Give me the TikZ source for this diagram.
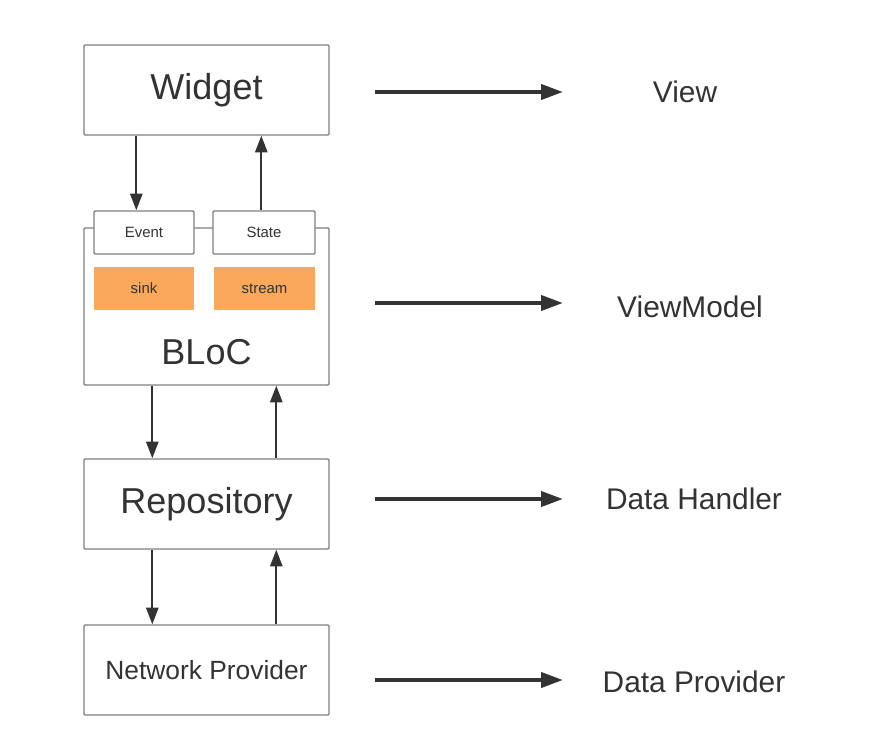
\documentclass[tikz,border=0pt]{standalone}
\usepackage{fontspec}
\setmainfont{Liberation Sans}
\usetikzlibrary{arrows.meta,calc}
\definecolor{boxgray}{RGB}{128,128,128}
\definecolor{inkgray}{RGB}{51,51,51}
\definecolor{sinkorange}{RGB}{250,168,92}

\begin{document}
\begin{tikzpicture}[x=0.02cm, y=-0.02cm,
    box/.style={draw=boxgray, line width=0.8pt, fill=white, text=inkgray, rounded corners=0.6pt, inner sep=0pt},
    tab/.style={box, minimum width=100*0.02cm, minimum height=43*0.02cm, font=\fontsize{8.5}{10}\selectfont},
    pipe/.style={fill=sinkorange, text=inkgray, inner sep=0pt, minimum width=100*0.02cm, minimum height=43*0.02cm, font=\fontsize{8.5}{10}\selectfont},
    flow/.style={inkgray, line width=1.1pt, -{Triangle[length=9.5pt,width=7pt]}},
    layer/.style={inkgray, line width=2.3pt, -{Triangle[length=12.5pt,width=8.5pt]}},
    tag/.style={text=inkgray, font=\fontsize{17}{20}\selectfont}]

    \useasboundingbox (0,0) rectangle (874,743);

    \node[box, minimum width=245*0.02cm, minimum height=90*0.02cm, font=\fontsize{20.5}{24}\selectfont] (widget) at (206.5,90) {Widget};

    \node[box, minimum width=245*0.02cm, minimum height=157*0.02cm] (bloc) at (206.5,306.5) {};
    \node[tab] (event) at (144,232.5) {Event};
    \node[tab, minimum width=102*0.02cm] (state) at (264,232.5) {State};
    \node[pipe] (sink) at (144,288.5) {sink};
    \node[pipe, minimum width=101*0.02cm] (stream) at (264.5,288.5) {stream};
    \node[text=inkgray, font=\fontsize{20.5}{24}\selectfont] (bloclabel) at (206.5,352) {BLoC};

    \node[box, minimum width=245*0.02cm, minimum height=90*0.02cm, font=\fontsize{20.5}{24}\selectfont] (repo) at (206.5,504) {Repository};
    \node[box, minimum width=245*0.02cm, minimum height=90*0.02cm, font=\fontsize{15}{18}\selectfont] (network) at (206.5,670) {Network Provider};

    \draw[flow] ($(widget.south west)+(53,0)$) -- ($(event.north west)+(43,0)$);
    \draw[flow] ($(state.north west)+(49,0)$) -- ($(widget.south west)+(178,0)$);
    \draw[flow] ($(bloc.south west)+(69,0)$) -- ($(repo.north west)+(69,0)$);
    \draw[flow] ($(repo.north west)+(193,0)$) -- ($(bloc.south west)+(193,0)$);
    \draw[flow] ($(repo.south west)+(69,0)$) -- ($(network.north west)+(69,0)$);
    \draw[flow] ($(network.north west)+(193,0)$) -- ($(repo.south west)+(193,0)$);

    \node[tag] (view) at (685,92) {View};
    \node[tag] (viewmodel) at (690,307) {ViewModel};
    \node[tag] (handler) at (694,499) {Data Handler};
    \node[tag] (provider) at (694,682) {Data Provider};

    \coordinate (from) at (375,0);
    \coordinate (to) at (563,0);
    \draw[layer] (view.west -| from) -- (view.west -| to);
    \draw[layer] ($(viewmodel.west -| from)+(0,-4)$) -- ($(viewmodel.west -| to)+(0,-4)$);
    \draw[layer] (handler.west -| from) -- (handler.west -| to);
    \draw[layer] ($(provider.west -| from)+(0,-2)$) -- ($(provider.west -| to)+(0,-2)$);

\end{tikzpicture}
\end{document}
